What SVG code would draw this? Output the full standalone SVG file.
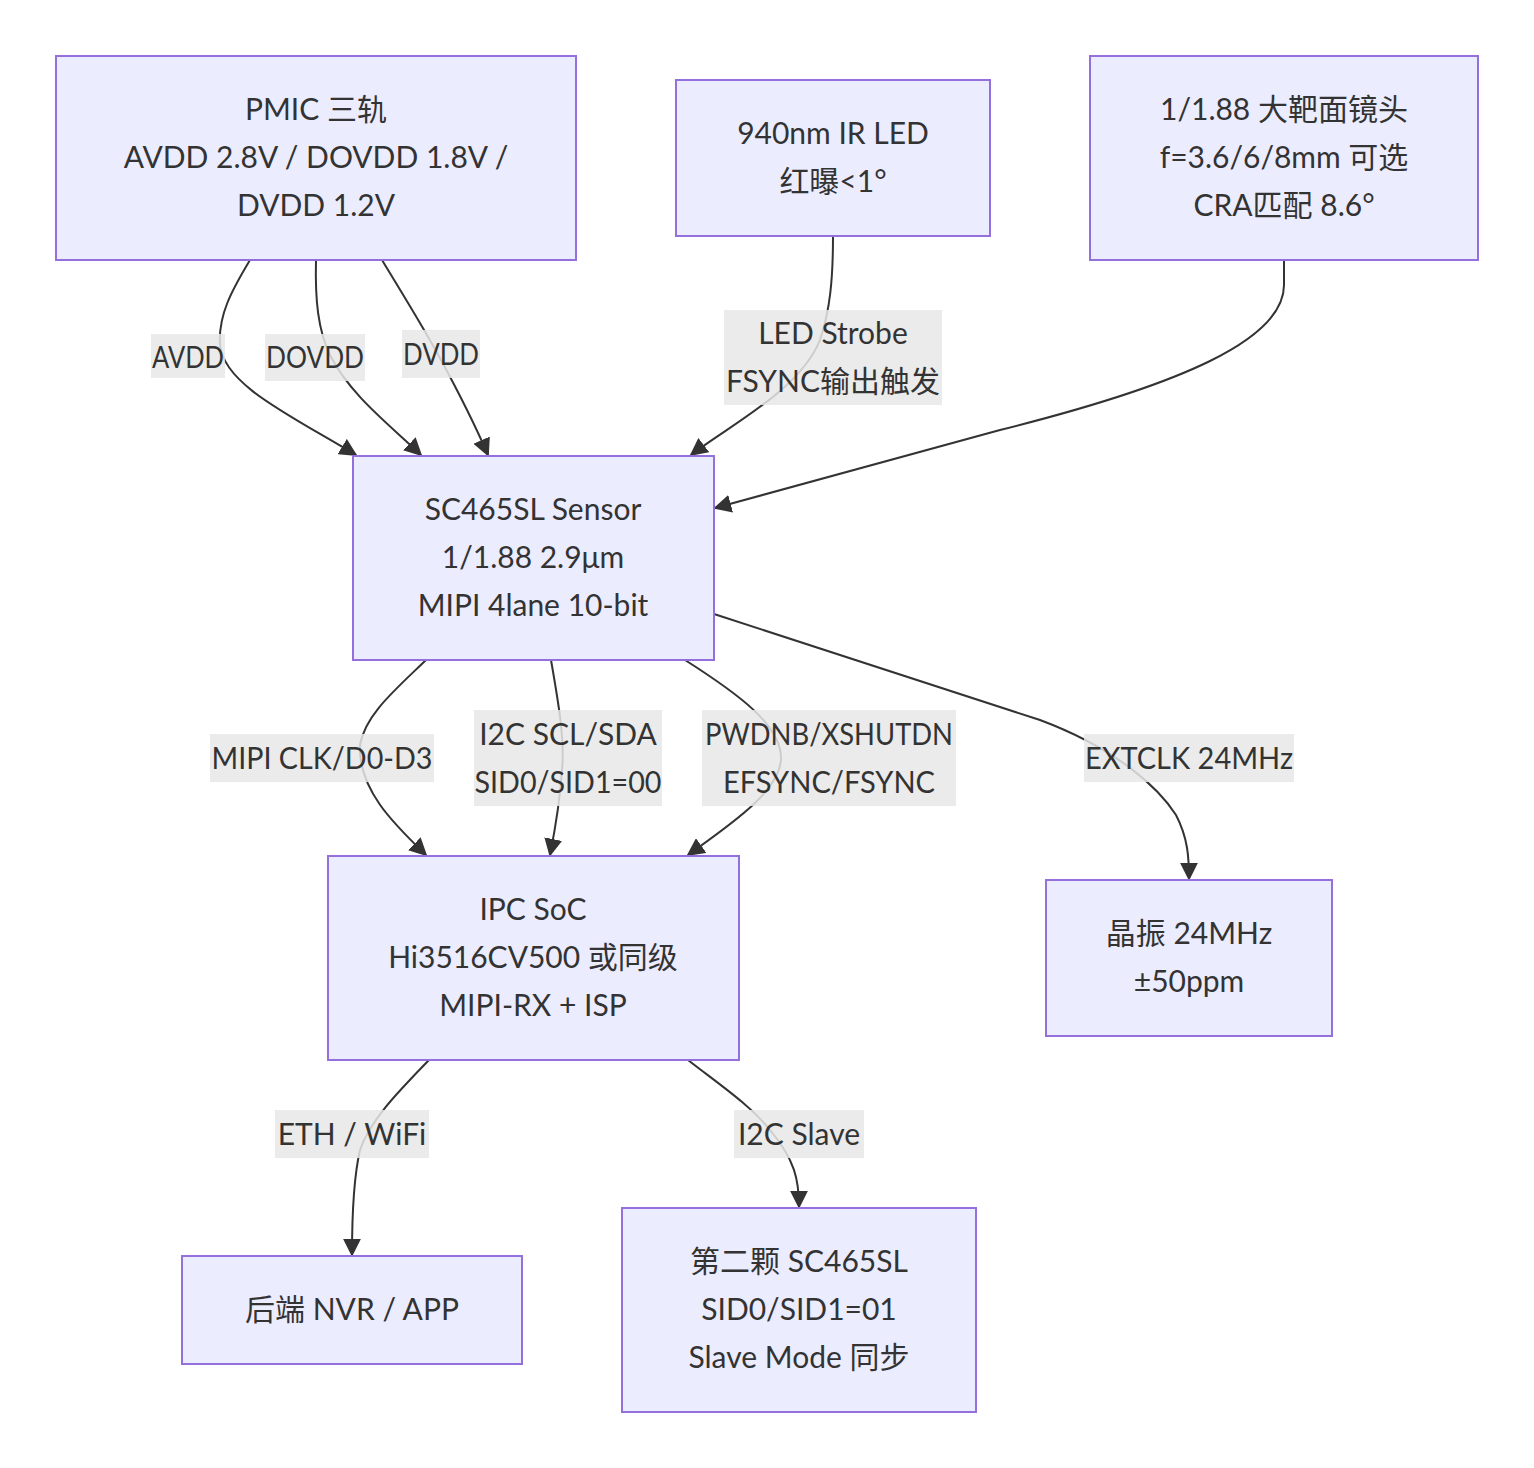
<svg xmlns="http://www.w3.org/2000/svg" width="1534" height="1468" viewBox="0 0 1534 1468">
<style>
.node rect{fill:#ECECFF;stroke:#9370DB;stroke-width:2}
text{font-family:"Trebuchet MS",Lato,"Noto Sans CJK SC",sans-serif;font-size:30px;fill:#333;text-anchor:middle}
.edge{fill:none;stroke:#333;stroke-width:2;marker-end:url(#arrow)}
.lbl rect{fill:#e8e8e8;opacity:0.85}
</style>
<defs>
<marker id="arrow" viewBox="0 0 10 10" refX="9" refY="5" markerUnits="userSpaceOnUse" markerWidth="18" markerHeight="18" orient="auto">
<path d="M0,0 L10,5 L0,10 z" fill="#333"/>
</marker>
</defs>
<rect width="1534" height="1468" fill="#fff"/>
<g id="connectors">
<path class="edge" d="M250,260 C232,290 218,315 220,345 C224,385 290,415 356,455"/>
<path class="edge" d="M316,260 C315,300 318,330 330,355 C350,395 390,425 421,455"/>
<path class="edge" d="M382,260 C405,298 425,330 441,360 C460,395 475,425 488,455"/>
<path class="edge" d="M833,236 C833,280 830,310 820,340 C800,390 730,425 691,455"/>
<path class="edge" d="M1284,260 L1284,285 C1284,340 1180,385 1000,430 L715,508"/>
<path class="edge" d="M426,660 C395,690 365,715 360,745 C358,790 395,825 426,855"/>
<path class="edge" d="M551,660 C558,700 565,740 562,770 C560,800 555,830 550,855"/>
<path class="edge" d="M685,660 C740,695 780,725 781,757 C782,790 730,825 688,855"/>
<path class="edge" d="M714,614 L1040,720 C1120,750 1160,790 1176,815 C1188,838 1189,858 1189,879"/>
<path class="edge" d="M429,1060 C400,1090 370,1120 360,1150 C353,1180 352,1220 352,1255"/>
<path class="edge" d="M688,1060 C720,1085 750,1105 770,1130 C795,1160 799,1180 799,1207"/>
</g>
<g id="edge-labels">
<g class="lbl"><rect x="151" y="334" width="74" height="44"/><text x="188" y="368" textLength="72" lengthAdjust="spacingAndGlyphs">AVDD</text></g>
<g class="lbl"><rect x="265" y="334" width="100" height="47"/><text x="315" y="368" textLength="98" lengthAdjust="spacingAndGlyphs">DOVDD</text></g>
<g class="lbl"><rect x="402" y="330" width="78" height="48"/><text x="441" y="365" textLength="76" lengthAdjust="spacingAndGlyphs">DVDD</text></g>
<g class="lbl"><rect x="724" y="310" width="218" height="95"/><text x="833" y="344">LED Strobe</text><text x="833" y="392">FSYNC输出触发</text></g>
<g class="lbl"><rect x="210" y="734" width="224" height="48"/><text x="322" y="769" textLength="221" lengthAdjust="spacingAndGlyphs">MIPI CLK/D0-D3</text></g>
<g class="lbl"><rect x="474" y="710" width="188" height="96"/><text x="568" y="745">I2C SCL/SDA</text><text x="568" y="793" textLength="187" lengthAdjust="spacingAndGlyphs">SID0/SID1=00</text></g>
<g class="lbl"><rect x="702" y="710" width="254" height="96"/><text x="829" y="745" textLength="248" lengthAdjust="spacingAndGlyphs">PWDNB/XSHUTDN</text><text x="829" y="793" textLength="212" lengthAdjust="spacingAndGlyphs">EFSYNC/FSYNC</text></g>
<g class="lbl"><rect x="1084" y="734" width="210" height="48"/><text x="1189" y="769" textLength="208" lengthAdjust="spacingAndGlyphs">EXTCLK 24MHz</text></g>
<g class="lbl"><rect x="275" y="1110" width="154" height="48"/><text x="352" y="1145">ETH / WiFi</text></g>
<g class="lbl"><rect x="734" y="1110" width="130" height="48"/><text x="799" y="1145">I2C Slave</text></g>
</g>
<g id="pmic" class="node"><rect x="56" y="56" width="520" height="204"/><text x="316" y="120">PMIC 三轨</text><text x="316" y="168">AVDD 2.8V / DOVDD 1.8V /</text><text x="316" y="216">DVDD 1.2V</text></g>
<g id="irled" class="node"><rect x="676" y="80" width="314" height="156"/><text x="833" y="144">940nm IR LED</text><text x="833" y="192">红曝&lt;1°</text></g>
<g id="lens" class="node"><rect x="1090" y="56" width="388" height="204"/><text x="1284" y="120">1/1.88 大靶面镜头</text><text x="1284" y="168">f=3.6/6/8mm 可选</text><text x="1284" y="216">CRA匹配 8.6°</text></g>
<g id="sensor" class="node"><rect x="353" y="456" width="361" height="204"/><text x="533" y="520">SC465SL Sensor</text><text x="533" y="568">1/1.88 2.9μm</text><text x="533" y="616">MIPI 4lane 10-bit</text></g>
<g id="soc" class="node"><rect x="328" y="856" width="411" height="204"/><text x="533" y="920">IPC SoC</text><text x="533" y="968">Hi3516CV500 或同级</text><text x="533" y="1016">MIPI-RX + ISP</text></g>
<g id="xtal" class="node"><rect x="1046" y="880" width="286" height="156"/><text x="1189" y="944">晶振 24MHz</text><text x="1189" y="992">±50ppm</text></g>
<g id="nvr" class="node"><rect x="182" y="1256" width="340" height="108"/><text x="352" y="1320">后端 NVR / APP</text></g>
<g id="sensor2" class="node"><rect x="622" y="1208" width="354" height="204"/><text x="799" y="1272">第二颗 SC465SL</text><text x="799" y="1320">SID0/SID1=01</text><text x="799" y="1368">Slave Mode 同步</text></g>
</svg>
